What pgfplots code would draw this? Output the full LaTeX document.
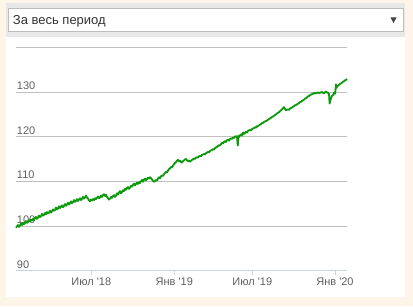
\documentclass[border=0pt]{standalone}
\usepackage{pgfplots}
\pgfplotsset{compat=1.18}
\usepackage{fontspec}
\setmainfont{Liberation Sans}
\definecolor{cream}{HTML}{FDF5E8}
\definecolor{bandgray}{HTML}{E8E8E8}
\definecolor{boxborder}{HTML}{BDBDBD}
\definecolor{gridgray}{HTML}{C0C0C0}
\definecolor{axisblue}{HTML}{C8D4E4}
\definecolor{labelgray}{HTML}{606060}
\definecolor{linegreen}{HTML}{0A9A0A}
\pgfplotstableread{
t v
16 99.6
17 99.9
18 100.2
19 99.8
20 100.1
21 100.5
22 100.2
23 100.7
24 100.4
25 100.6
26 101.1
27 100.7
28 100.9
29 101.3
30 101.0
31 101.4
32 101.2
33 101.6
34 101.3
35 101.8
36 102.0
37 101.6
38 101.9
39 102.3
40 102.0
41 102.2
42 102.7
43 102.3
44 102.5
45 102.9
46 102.6
47 103.1
48 102.8
49 103.0
50 103.4
51 103.0
52 103.3
53 103.7
54 103.4
55 103.6
56 104.1
57 103.7
58 103.9
59 104.4
60 104.0
61 104.3
62 104.6
63 104.2
64 104.5
65 104.9
66 104.5
67 104.8
68 105.2
69 104.8
70 105.1
71 105.5
72 105.1
73 105.3
74 105.8
75 105.4
76 105.6
77 106.0
78 105.6
79 105.9
80 106.2
81 105.8
82 106.1
83 106.5
84 106.1
85 106.4
86 106.8
87 106.3
88 106.2
89 105.7
90 105.5
91 105.9
92 105.7
93 106.0
94 105.8
95 106.2
96 106.0
97 106.3
98 106.6
99 106.2
100 106.4
101 106.8
102 106.5
103 106.9
104 107.1
105 106.7
106 107.0
107 106.5
108 106.2
109 105.9
110 106.1
111 106.5
112 106.3
113 106.7
114 106.9
115 106.5
116 106.8
117 107.3
118 107.0
119 107.5
120 107.8
121 107.3
122 107.6
123 108.0
124 107.8
125 108.3
126 108.1
127 108.5
128 108.7
129 108.3
130 108.6
131 109.0
132 108.8
133 109.2
134 109.5
135 109.1
136 109.4
137 109.7
138 109.4
139 109.8
140 109.6
141 110.0
142 110.3
143 109.9
144 110.4
145 110.6
146 110.2
147 110.5
148 110.8
149 110.6
150 110.9
151 110.7
152 110.4
153 110.1
154 109.9
155 110.0
156 110.3
157 110.2
158 110.6
159 110.9
160 110.7
161 111.1
162 111.3
163 111.2
164 111.6
165 111.8
166 112.1
167 112.0
168 112.4
169 112.7
170 112.9
171 113.2
172 113.1
173 113.5
174 113.8
175 114.1
176 114.3
177 114.6
178 114.8
179 114.5
180 114.6
181 114.3
182 114.2
183 114.5
184 114.7
185 114.9
186 115.0
187 114.7
188 114.5
189 114.6
190 114.4
191 114.6
192 114.8
193 114.9
194 115.1
195 115.0
196 115.3
197 115.4
198 115.3
199 115.6
200 115.7
201 115.6
202 115.9
203 116.0
204 116.1
205 116.0
206 116.3
207 116.4
208 116.6
209 116.5
210 116.8
211 116.9
212 117.0
213 117.2
214 117.1
215 117.4
216 117.6
217 117.7
218 117.9
219 118.1
220 118.0
221 118.3
222 118.6
223 118.5
224 118.8
225 119.0
226 118.8
227 119.2
228 119.3
229 119.1
230 119.5
231 119.6
232 119.5
233 119.8
234 119.7
235 120.0
236 120.1
237 120.0
237.8 118.0
238.5 120.2
239 119.9
240 120.3
241 120.5
242 120.2
243 120.9
244 120.6
245 120.8
246 121.1
247 120.9
248 121.3
249 121.4
250 121.5
251 121.4
252 121.7
253 121.8
254 121.9
255 122.1
256 122.0
257 122.3
258 122.4
259 122.5
260 122.7
261 122.8
262 123.0
263 123.1
264 123.3
265 123.4
266 123.5
267 123.6
268 123.8
269 123.9
270 124.1
271 124.2
272 124.4
273 124.5
274 124.7
275 124.8
276 125.0
277 125.2
278 125.3
279 125.5
280 125.7
281 125.9
282 126.1
283 126.4
284 126.6
285 126.2
286 125.9
287 126.0
288 126.1
289 126.0
290 126.3
291 126.4
292 126.5
293 126.7
294 126.8
295 127.0
296 127.1
297 127.2
298 127.4
299 127.5
300 127.7
301 127.8
302 128.0
303 128.1
304 128.3
305 128.5
306 128.6
307 128.8
308 129.0
309 129.1
310 129.3
311 129.4
312 129.5
313 129.7
314 129.6
315 129.8
316 129.7
317 129.8
318 129.9
319 129.8
320 129.8
321 129.9
322 130.0
323 129.8
324 129.7
325 129.9
326 130.1
327 129.9
328 129.8
329 129.6
329.6 127.4
330.2 128.0
331 128.6
332 129.1
333 129.3
334 129.8
335 129.6
335.5 130.4
336 131.7
336.5 130.9
337 131.2
338 131.4
339 131.6
340 131.8
341 131.9
342 132.1
343 132.3
344 132.4
345 132.6
346 132.7
347 132.9
}\series
\begin{document}
\begin{tikzpicture}[x=1pt,y=1pt]
\fill[cream] (0,0) rectangle (413,306);
\fill[white] (6,9) rectangle (405,303);
\fill[bandgray] (6,269) rectangle (405,303);
\filldraw[fill=white,draw=boxborder,line width=0.8pt] (8.3,274.3) rectangle (403.3,297.7);
\node[anchor=base west,inner sep=0pt,text=black!80,font=\fontsize{13}{15}\selectfont] at (12.7,281) {За весь период};
\fill[black!75] (390.5,288.5) -- (396.5,288.5) -- (393.5,283) -- cycle;
\begin{axis}[
  at={(16pt,35.4pt)}, anchor=south west,
  width=331pt, height=223.3pt, scale only axis,
  xmin=16, xmax=347, ymin=90, ymax=140,
  axis x line=bottom, axis y line=left,
  x axis line style={draw=axisblue,line width=0.8pt,-},
  y axis line style={draw=none},
  ytick={90,100,110,120,130},
  extra y ticks={140}, extra y tick labels={},
  extra y tick style={grid=major, major tick length=0pt},
  ymajorgrids, grid style={gridgray,line width=0.8pt},
  ytick style={draw=none},
  yticklabel style={anchor=south west, inner sep=0pt, xshift=3pt, yshift=2pt, text=labelgray, font=\fontsize{11}{13}\selectfont},
  /pgf/number format/assume math mode=true,
  xtick={91.3,174.3,252.3,335},
  xticklabels={Июл \textquotesingle18,Янв \textquotesingle19,Июл \textquotesingle19,Янв \textquotesingle20},
  xtick style={draw=axisblue,line width=0.8pt},
  xtick align=outside, major tick length=4.5pt,
  xticklabel style={text=labelgray, font=\fontsize{11}{13}\selectfont, inner sep=0pt, yshift=-3pt},
  clip=false,
]
\addplot[linegreen, line width=1.8pt, line join=round] table[x=t,y=v] {\series};
\end{axis}
\end{tikzpicture}
\end{document}
